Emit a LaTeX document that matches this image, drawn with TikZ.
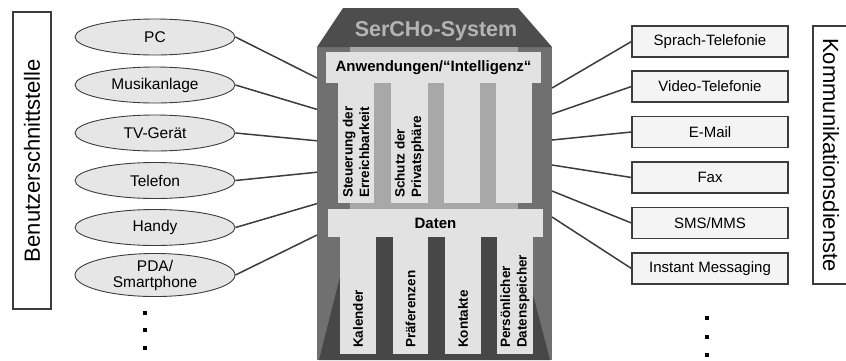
\documentclass[tikz,border=0pt]{standalone}
\usepackage{fontspec}
\setmainfont{Liberation Sans}
\usetikzlibrary{shapes.geometric}
\definecolor{roofgray}{HTML}{4D4D4D}
\definecolor{framegray}{HTML}{707070}
\definecolor{innergray}{HTML}{A8A8A8}
\definecolor{lightgray}{HTML}{E2E2E2}
\definecolor{basegray}{HTML}{474747}
\definecolor{titlegray}{HTML}{B4B4B4}
\definecolor{linegray}{HTML}{3C3C3C}
\definecolor{devfill}{HTML}{E6E6E6}
\definecolor{svcfill}{HTML}{F4F4F4}
\tikzset{
  device/.style={ellipse, draw=linegray, line width=0.9pt, fill=devfill,
    minimum width=160pt, minimum height=36pt, inner sep=0pt, align=center,
    font=\fontsize{15.5}{18}\selectfont},
  service/.style={rectangle, draw=linegray, line width=1.1pt, fill=svcfill,
    minimum width=156pt, minimum height=31pt, inner sep=0pt,
    font=\fontsize{15}{18}\selectfont},
  sidelabel/.style={font=\fontsize{22}{26}\selectfont, inner sep=0pt},
  band/.style={fill=lightgray, inner sep=0pt, font=\bfseries\fontsize{15}{18}\selectfont},
  coltext/.style={rotate=90, anchor=west, align=left, inner sep=0pt,
    font=\bfseries\fontsize{13.5}{16.5}\selectfont},
  link/.style={draw=linegray, line width=1.5pt},
  dotmark/.style={fill=black}
}
\begin{document}
\begin{tikzpicture}[x=1pt,y=-1pt]
\useasboundingbox (0,0) rectangle (846,360);

% central system body
\fill[framegray] (317,47) rectangle (552,360);
\fill[roofgray] (343,8) -- (518,8) -- (552,47) -- (317,47) -- cycle;
\fill[innergray] (350,47) rectangle (518,237);
\fill[basegray] (350,237) -- (518,237) -- (550,360) -- (319,360) -- cycle;
\node[font=\bfseries\fontsize{21.5}{24}\selectfont, text=titlegray, inner sep=0pt] (title) at (436,31) {SerCHo-System};

% application columns
\foreach \xa/\xb in {338/374, 391/428, 444/480, 496/532}
  \fill[lightgray] (\xa,83) rectangle (\xb,203);
\node[band, minimum width=215pt, minimum height=31pt] (apps) at (433.5,67.5) {Anwendungen/“Intelligenz“};
\node[coltext] (reach) at (356,198) {Steuerung der\\Erreichbarkeit};
\node[coltext] (priv) at (409.5,198) {Schutz der\\Privatsphäre};

% data columns
\foreach \xa/\xb in {340/376, 393/428, 445/481, 497/533}
  \fill[lightgray] (\xa,237) rectangle (\xb,354);
\node[band, minimum width=215pt, minimum height=28pt] (data) at (435.5,223) {Daten};
\node[coltext] (cal) at (358,348) {Kalender};
\node[coltext] (pref) at (410.5,348) {Präferenzen};
\node[coltext] (cont) at (463,348) {Kontakte};
\node[coltext] (store) at (515,348) {Persönlicher\\Datenspeicher};

% attachment points on the body edges
\foreach \i/\y in {1/78, 2/109.4, 3/140.8, 4/172.2, 5/203.6, 6/235}
  \coordinate (l\i) at (317,\y);
\foreach \i/\y in {1/88, 2/114, 3/140, 4/165, 5/191, 6/217}
  \coordinate (r\i) at (552,\y);

% user interface side
\node[draw=linegray, line width=1.1pt, rotate=90, minimum width=297pt, minimum height=38pt,
      sidelabel] (ui) at (32,160.5) {Benutzerschnittstelle};
\node[device] (pc) at (155,37) {PC};
\node[device] (music) at (155,85) {Musikanlage};
\node[device] (tv) at (155,133) {TV-Gerät};
\node[device] (phone) at (155,180.5) {Telefon};
\node[device] (mobile) at (155,227.5) {Handy};
\node[device] (pda) at (155,275) {PDA/\\[-2pt]Smartphone};

\draw[link] (pc.east) -- (l1);
\draw[link] (music.east) -- (l2);
\draw[link] (tv.east) -- (l3);
\draw[link] (phone.east) -- (l4);
\draw[link] (mobile.east) -- (l5);
\draw[link] (pda.east) -- (l6);

\foreach \y in {313,330,348}
  \fill[dotmark] (143,\y-2) rectangle (147,\y+2);

% communication services side
\draw[linegray, line width=1.1pt] (847,26) -- (813,26) -- (813,284) -- (847,284);
\node[sidelabel, rotate=-90] (comm) at (831,155) {Kommunikationsdienste};
\node[service] (voice) at (710,41.5) {Sprach-Telefonie};
\node[service] (video) at (710,86.5) {Video-Telefonie};
\node[service] (mail) at (710,132) {E-Mail};
\node[service] (fax) at (710,177.5) {Fax};
\node[service] (sms) at (710,223) {SMS/MMS};
\node[service] (im) at (710,268.5) {Instant Messaging};

\draw[link] (r1) -- (voice.west);
\draw[link] (r2) -- (video.west);
\draw[link] (r3) -- (mail.west);
\draw[link] (r4) -- (fax.west);
\draw[link] (r5) -- (sms.west);
\draw[link] (r6) -- (im.west);

\foreach \y in {318,337,355}
  \fill[dotmark] (705,\y-2) rectangle (709,\y+2);
\end{tikzpicture}
\end{document}
